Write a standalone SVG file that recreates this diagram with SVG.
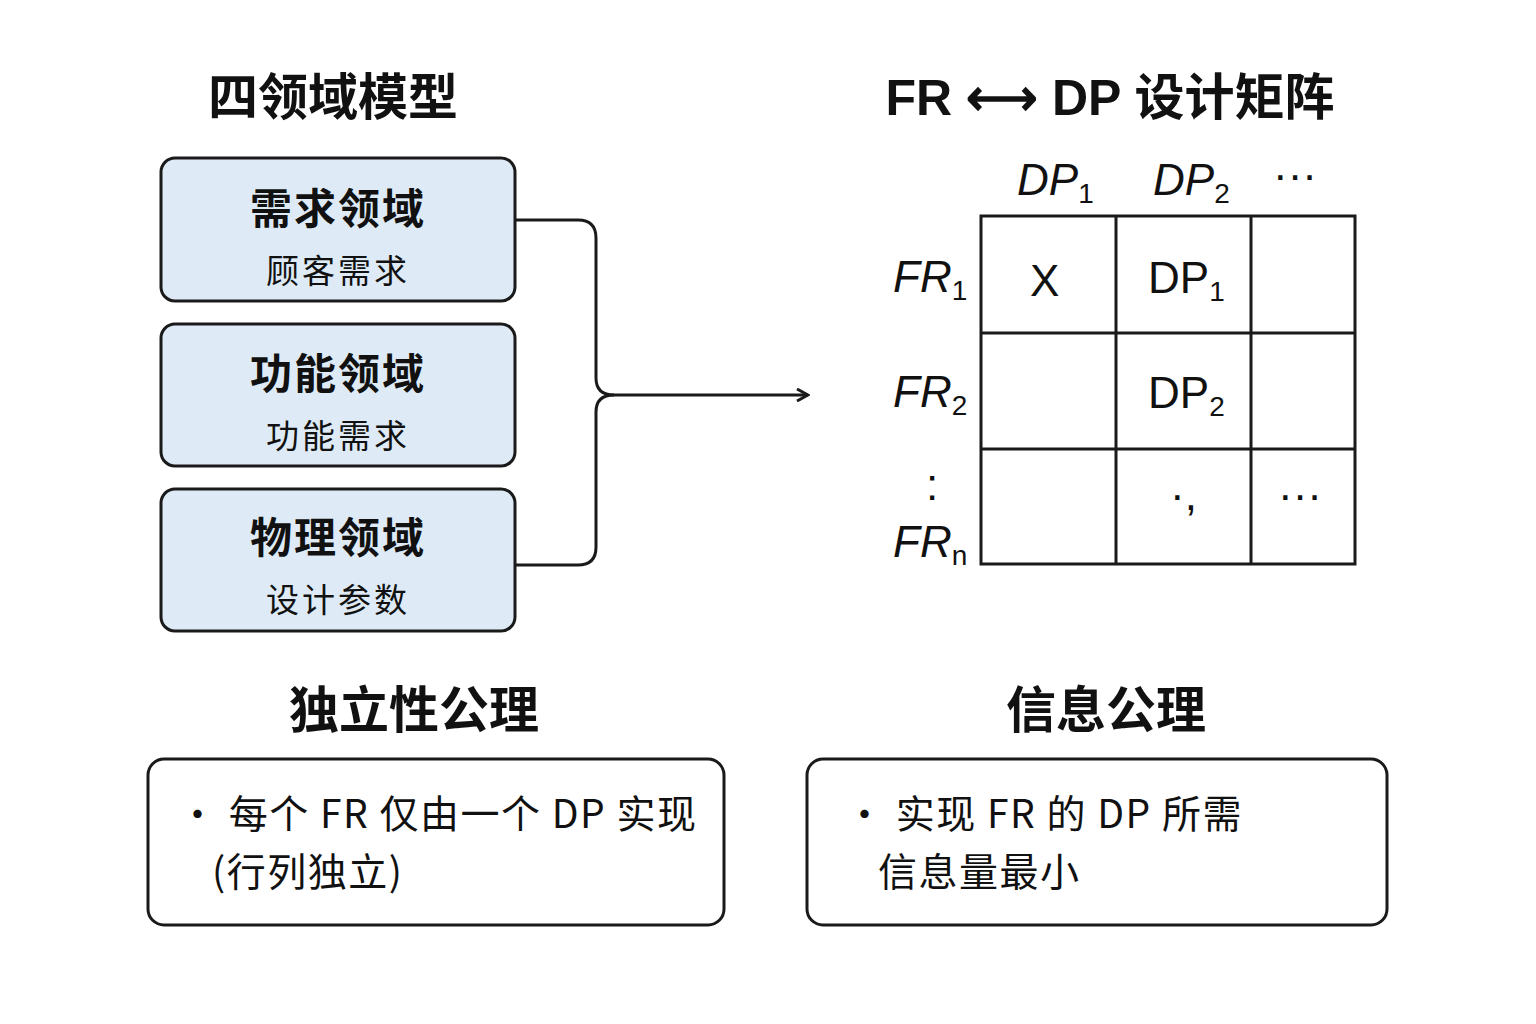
<svg xmlns="http://www.w3.org/2000/svg" width="1536" height="1024" viewBox="0 0 1536 1024">
<style>
text{font-family:"Noto Sans CJK SC","Liberation Sans",sans-serif;fill:#111}
.h{font-size:50px;font-weight:bold;text-anchor:middle}
.nt{font-size:42px;font-weight:bold;text-anchor:middle;letter-spacing:2px}
.ns{font-size:33px;text-anchor:middle;letter-spacing:3px}
.node{fill:#deebf7;stroke:#1a1a1a;stroke-width:3}
.box{fill:#fff;stroke:#1a1a1a;stroke-width:3}
.m{font-family:"Liberation Sans",sans-serif;font-size:44px}
.i{font-style:italic}
.b{font-size:39px;letter-spacing:1.5px}
line,path{stroke:#1a1a1a;stroke-width:3;fill:none}
</style>
<defs><marker id="a" markerWidth="14" markerHeight="14" refX="12" refY="7" orient="auto" markerUnits="userSpaceOnUse"><path d="M1,1 L12,7 L1,13" stroke="#1a1a1a" stroke-width="3" fill="none"/></marker></defs>
<text class="h" x="333" y="115">四领域模型</text>
<text class="h" x="1110" y="115"><tspan font-family="Liberation Sans">FR ⟷ DP </tspan>设计矩阵</text>
<g id="n1"><rect class="node" x="161" y="158" width="354" height="143" rx="14"/><text class="nt" x="338" y="224">需求领域</text><text class="ns" x="338" y="283">顾客需求</text></g>
<g id="n2"><rect class="node" x="161" y="324" width="354" height="142" rx="14"/><text class="nt" x="338" y="389">功能领域</text><text class="ns" x="338" y="448">功能需求</text></g>
<g id="n3"><rect class="node" x="161" y="489" width="354" height="142" rx="14"/><text class="nt" x="338" y="553">物理领域</text><text class="ns" x="338" y="612">设计参数</text></g>
<g id="connectors">
<path d="M515,220 H578 Q596,220 596,238 V378 Q596,395 614,395 H808" marker-end="url(#a)"/>
<path d="M515,565 H578 Q596,565 596,547 V412 Q596,395 614,395"/>
</g>
<g id="matrix">
<rect x="981" y="216" width="374" height="348" fill="none" stroke="#1a1a1a" stroke-width="3"/>
<line x1="1116" y1="216" x2="1116" y2="564"/><line x1="1251" y1="216" x2="1251" y2="564"/>
<line x1="981" y1="333" x2="1355" y2="333"/><line x1="981" y1="449" x2="1355" y2="449"/>
<text class="m i" x="1017" y="195">DP<tspan font-style="normal" font-size="28" dy="8">1</tspan></text>
<text class="m i" x="1153" y="195">DP<tspan font-style="normal" font-size="28" dy="8">2</tspan></text>
<text class="m" x="1273" y="190">···</text>
<text class="m i" x="893" y="292">FR<tspan font-style="normal" font-size="28" dy="8">1</tspan></text>
<text class="m i" x="893" y="407">FR<tspan font-style="normal" font-size="28" dy="8">2</tspan></text>
<text class="m" x="926" y="500">:</text>
<text class="m i" x="893" y="557">FR<tspan font-style="normal" font-size="28" dy="8">n</tspan></text>
<text class="m" x="1030" y="296" font-size="56">X</text>
<text class="m" x="1148" y="293">DP<tspan font-size="28" dy="8">1</tspan></text>
<text class="m" x="1148" y="408">DP<tspan font-size="28" dy="8">2</tspan></text>
<text class="m" x="1170" y="510">·,</text>
<text class="m" x="1278" y="510">···</text>
</g>
<text class="h" x="414" y="728">独立性公理</text>
<text class="h" x="1106" y="728">信息公理</text>
<g id="b1"><rect class="box" x="148" y="759" width="576" height="166" rx="16"/>
<text class="b" x="178" y="828">• 每个 FR 仅由一个 DP 实现</text><text class="b" x="212" y="886">(行列独立)</text></g>
<g id="b2"><rect class="box" x="807" y="759" width="580" height="166" rx="16"/>
<text class="b" x="845" y="828">• 实现 FR 的 DP 所需</text><text class="b" x="878" y="886">信息量最小</text></g>
</svg>
